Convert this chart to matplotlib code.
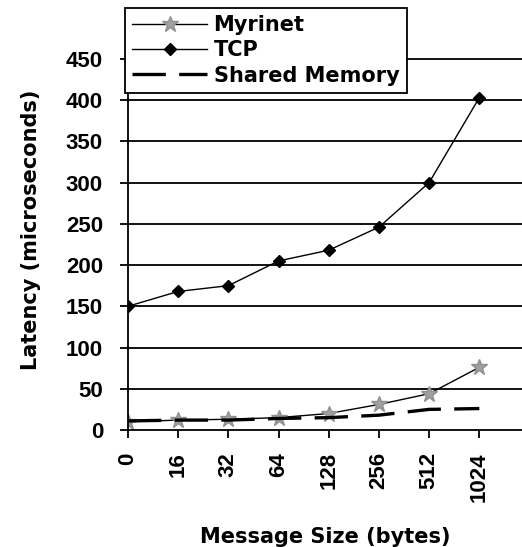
import matplotlib.pyplot as plt
import numpy as np

sizes = ['0', '16', '32', '64', '128', '256', '512', '1024']
myrinet = [10, 12, 13, 15, 20, 31, 44, 76]
tcp = [150, 168, 175, 205, 218, 246, 300, 403]
shared_mem = [11, 12, 12, 14, 15, 18, 25, 26]

x = np.arange(len(sizes))

fig = plt.figure(figsize=(5.22, 5.47), dpi=100)
ax = fig.add_axes([128/522, 1 - 430/547, 1 - 128/522, 400/547])

# gridlines first so the series sit on top
for yv in range(50, 500, 50):
    ax.axhline(yv, color='black', lw=1.3, zorder=1)

ax.plot(x, myrinet, color='black', lw=1, marker='*', ms=12,
        mfc='#a0a0a0', mec='#909090', label='Myrinet', zorder=2)
ax.plot(x, tcp, color='black', lw=1, marker='D', ms=6,
        mfc='black', mec='black', label='TCP', zorder=3)
ax.plot(x, shared_mem, color='black', lw=2.4, dashes=(10, 4),
        label='Shared Memory', zorder=4)

ax.set_xlim(0, 7.85)
ax.set_ylim(0, 485)
ax.set_yticks(range(0, 500, 50))
ax.set_xticks(x)
ax.set_xticklabels(sizes, rotation=90)

tick_font = dict(family='Liberation Sans', weight='bold', size=16)
for lab in ax.get_xticklabels() + ax.get_yticklabels():
    lab.set_fontproperties(tick_font)

ax.spines['top'].set_visible(False)
ax.spines['right'].set_visible(False)
ax.spines['left'].set_linewidth(1.3)
ax.spines['bottom'].set_linewidth(1.3)
ax.tick_params(direction='out', length=6, width=1.3, colors='black')
ax.tick_params(axis='y', pad=12)
ax.tick_params(axis='x', pad=10)

lab_font = dict(family='DejaVu Sans', weight='bold', size=15)
ax.set_ylabel('Latency (microseconds)', fontdict=lab_font, labelpad=18)
ax.set_xlabel('Message Size (bytes)', fontdict=lab_font, labelpad=18)

leg = fig.legend(loc='upper left', bbox_to_anchor=(125/522, 1 - 8/547),
                 prop=dict(family='DejaVu Sans', weight='bold', size=15),
                 frameon=True, fancybox=False, edgecolor='black',
                 handlelength=3.6, handletextpad=0.3, borderpad=0.35,
                 labelspacing=0.25, borderaxespad=0)
leg.get_frame().set_linewidth(1.3)
leg.get_frame().set_alpha(1)

fig.savefig('out.png', dpi=100)
